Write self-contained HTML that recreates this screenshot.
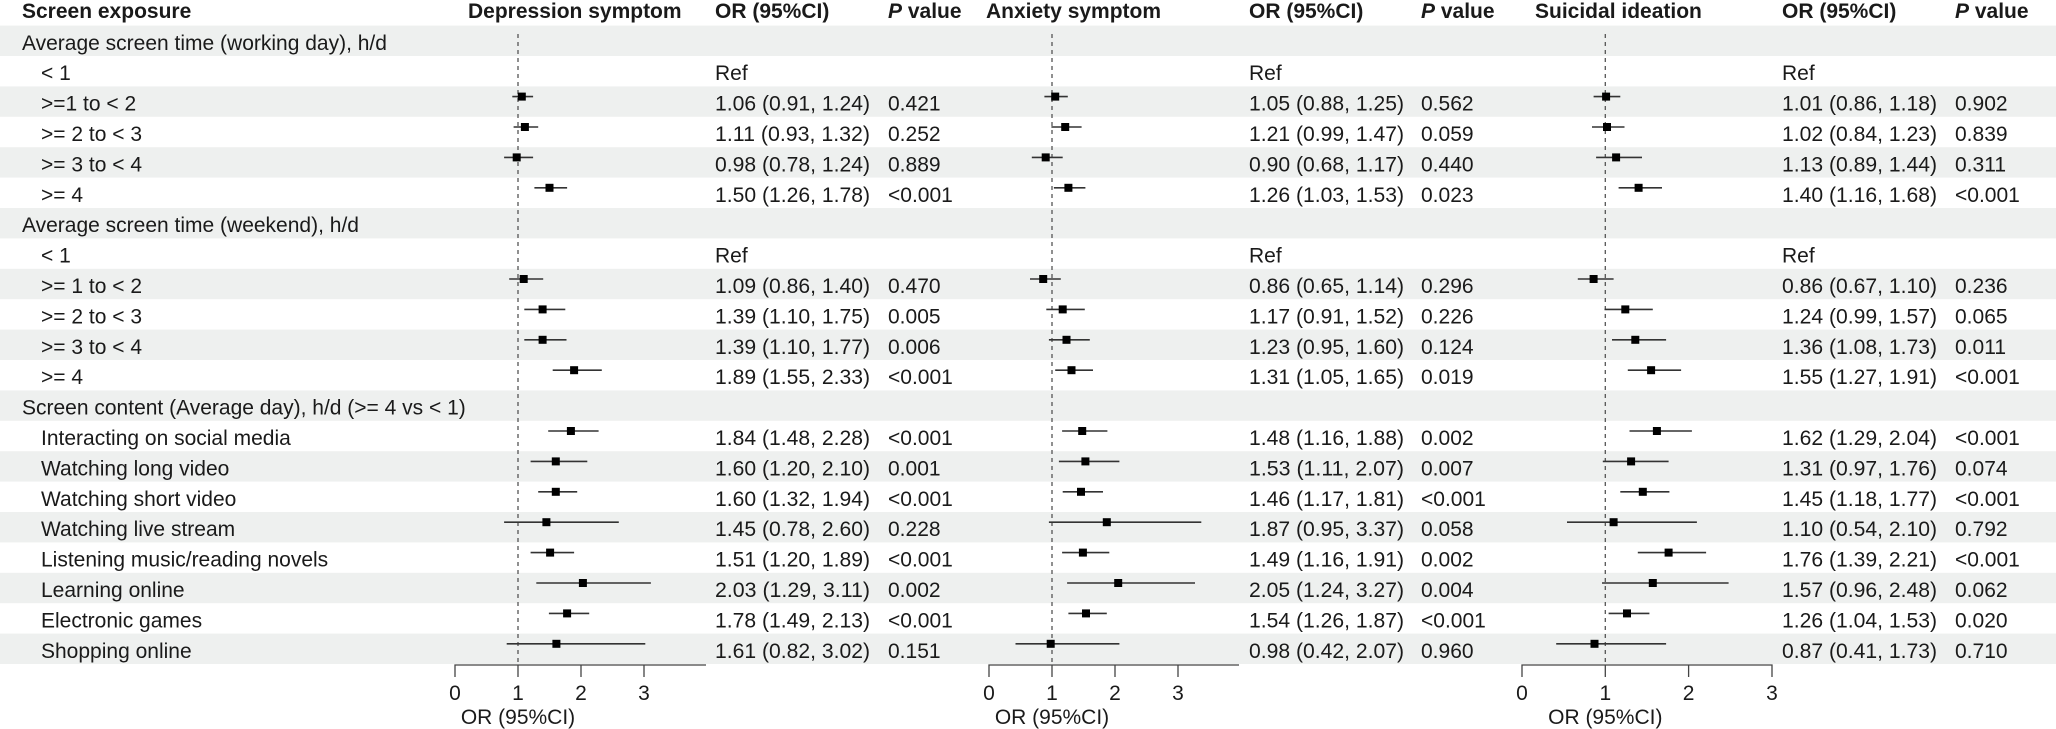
<!DOCTYPE html>
<html><head><meta charset="utf-8"><style>
html,body{margin:0;padding:0;background:#fff;}
svg{display:block;font-family:"Liberation Sans",Arial,sans-serif;}
text{fill:#1a1a1a;font-size:21px;}
.b{font-weight:bold;}
.ci{stroke:#333;stroke-width:1.6;}
.ax{stroke:#444;stroke-width:1.3;fill:none;}
</style></head><body>
<svg width="2056" height="729" viewBox="0 0 2056 729" xmlns="http://www.w3.org/2000/svg">
<g fill="#eef0ef">
<rect x="0" y="25.6" width="2056" height="30.4"/>
<rect x="0" y="86.4" width="2056" height="30.4"/>
<rect x="0" y="147.2" width="2056" height="30.4"/>
<rect x="0" y="208" width="2056" height="30.4"/>
<rect x="0" y="268.8" width="2056" height="30.4"/>
<rect x="0" y="329.6" width="2056" height="30.4"/>
<rect x="0" y="390.4" width="2056" height="30.4"/>
<rect x="0" y="451.2" width="2056" height="30.4"/>
<rect x="0" y="512" width="2056" height="30.4"/>
<rect x="0" y="572.8" width="2056" height="30.4"/>
<rect x="0" y="633.6" width="2056" height="30.4"/>
</g>
<!-- headers -->
<text class="b" x="22" y="18">Screen exposure</text>
<text class="b" x="468" y="18">Depression symptom</text>
<text class="b" x="715" y="18">OR (95%CI)</text>
<text class="b" x="888" y="18"><tspan font-style="italic">P</tspan> value</text>
<text class="b" x="986" y="18">Anxiety symptom</text>
<text class="b" x="1249" y="18">OR (95%CI)</text>
<text class="b" x="1421" y="18"><tspan font-style="italic">P</tspan> value</text>
<text class="b" x="1535" y="18">Suicidal ideation</text>
<text class="b" x="1782" y="18">OR (95%CI)</text>
<text class="b" x="1955" y="18"><tspan font-style="italic">P</tspan> value</text>
<!-- labels -->
<g>
<text x="22" y="49.8">Average screen time (working day), h/d</text>
<text x="41" y="80.2">&lt; 1</text>
<text x="41" y="110.6">&gt;=1 to &lt; 2</text>
<text x="41" y="141">&gt;= 2 to &lt; 3</text>
<text x="41" y="171.4">&gt;= 3 to &lt; 4</text>
<text x="41" y="201.8">&gt;= 4</text>
<text x="22" y="232.2">Average screen time (weekend), h/d</text>
<text x="41" y="262.6">&lt; 1</text>
<text x="41" y="293">&gt;= 1 to &lt; 2</text>
<text x="41" y="323.4">&gt;= 2 to &lt; 3</text>
<text x="41" y="353.8">&gt;= 3 to &lt; 4</text>
<text x="41" y="384.2">&gt;= 4</text>
<text x="22" y="414.6">Screen content (Average day), h/d (&gt;= 4 vs &lt; 1)</text>
<text x="41" y="445">Interacting on social media</text>
<text x="41" y="475.4">Watching long video</text>
<text x="41" y="505.8">Watching short video</text>
<text x="41" y="536.2">Watching live stream</text>
<text x="41" y="566.6">Listening music/reading novels</text>
<text x="41" y="597">Learning online</text>
<text x="41" y="627.4">Electronic games</text>
<text x="41" y="657.8">Shopping online</text>
</g>
<!-- dashed ref lines -->
<g stroke="#555" stroke-width="1.3" stroke-dasharray="4,4">
<line x1="518" y1="34" x2="518" y2="665"/>
<line x1="1052" y1="34" x2="1052" y2="665"/>
<line x1="1605.3" y1="34" x2="1605.3" y2="665"/>
</g>
<!-- axes -->
<path class="ax" d="M455,677V665H706M518,665V677M581,665V677M644,665V677"/>
<path class="ax" d="M989,677V665H1239M1052,665V677M1115,665V677M1178,665V677"/>
<path class="ax" d="M1522,677V665H1772V677M1605.3,665V677M1688.6,665V677"/>
<g text-anchor="middle">
<text x="455" y="700">0</text><text x="518" y="700">1</text><text x="581" y="700">2</text><text x="644" y="700">3</text>
<text x="989" y="700">0</text><text x="1052" y="700">1</text><text x="1115" y="700">2</text><text x="1178" y="700">3</text>
<text x="1522" y="700">0</text><text x="1605.3" y="700">1</text><text x="1688.6" y="700">2</text><text x="1772" y="700">3</text>
<text x="518" y="724">OR (95%CI)</text>
<text x="1052" y="724">OR (95%CI)</text>
<text x="1605.3" y="724">OR (95%CI)</text>
</g>
<!-- CI lines panel 1 -->
<g class="ci">
<line x1="512.3" x2="533.1" y1="96.6" y2="96.6"/>
<line x1="513.6" x2="538.2" y1="127" y2="127"/>
<line x1="504.1" x2="533.1" y1="157.4" y2="157.4"/>
<line x1="534.4" x2="567.1" y1="187.8" y2="187.8"/>
<line x1="509.2" x2="543.2" y1="279" y2="279"/>
<line x1="524.3" x2="565.3" y1="309.4" y2="309.4"/>
<line x1="524.3" x2="566.5" y1="339.8" y2="339.8"/>
<line x1="552.7" x2="601.8" y1="370.2" y2="370.2"/>
<line x1="548.2" x2="598.6" y1="431" y2="431"/>
<line x1="530.6" x2="587.3" y1="461.4" y2="461.4"/>
<line x1="538.2" x2="577.2" y1="491.8" y2="491.8"/>
<line x1="504.1" x2="618.8" y1="522.2" y2="522.2"/>
<line x1="530.6" x2="574.1" y1="552.6" y2="552.6"/>
<line x1="536.3" x2="650.9" y1="583" y2="583"/>
<line x1="548.9" x2="589.2" y1="613.4" y2="613.4"/>
<line x1="506.7" x2="645.3" y1="643.8" y2="643.8"/>
<!-- panel 2 -->
<line x1="1044.4" x2="1067.8" y1="96.6" y2="96.6"/>
<line x1="1051.4" x2="1081.6" y1="127" y2="127"/>
<line x1="1031.8" x2="1062.7" y1="157.4" y2="157.4"/>
<line x1="1053.9" x2="1085.4" y1="187.8" y2="187.8"/>
<line x1="1030" x2="1060.8" y1="279" y2="279"/>
<line x1="1046.3" x2="1084.8" y1="309.4" y2="309.4"/>
<line x1="1048.9" x2="1089.8" y1="339.8" y2="339.8"/>
<line x1="1055.2" x2="1093" y1="370.2" y2="370.2"/>
<line x1="1062.1" x2="1107.4" y1="431" y2="431"/>
<line x1="1058.9" x2="1119.4" y1="461.4" y2="461.4"/>
<line x1="1062.7" x2="1103" y1="491.8" y2="491.8"/>
<line x1="1048.9" x2="1201.3" y1="522.2" y2="522.2"/>
<line x1="1062.1" x2="1109.3" y1="552.6" y2="552.6"/>
<line x1="1067.1" x2="1195" y1="583" y2="583"/>
<line x1="1068.4" x2="1106.8" y1="613.4" y2="613.4"/>
<line x1="1015.5" x2="1119.4" y1="643.8" y2="643.8"/>
<!-- panel 3 -->
<line x1="1593.6" x2="1620.3" y1="96.6" y2="96.6"/>
<line x1="1592" x2="1624.5" y1="127" y2="127"/>
<line x1="1596.1" x2="1642" y1="157.4" y2="157.4"/>
<line x1="1618.6" x2="1662" y1="187.8" y2="187.8"/>
<line x1="1577.8" x2="1613.6" y1="279" y2="279"/>
<line x1="1604.5" x2="1652.8" y1="309.4" y2="309.4"/>
<line x1="1612" x2="1666.1" y1="339.8" y2="339.8"/>
<line x1="1627.8" x2="1681.1" y1="370.2" y2="370.2"/>
<line x1="1629.5" x2="1691.9" y1="431" y2="431"/>
<line x1="1602.8" x2="1668.6" y1="461.4" y2="461.4"/>
<line x1="1620.3" x2="1669.4" y1="491.8" y2="491.8"/>
<line x1="1567" x2="1696.9" y1="522.2" y2="522.2"/>
<line x1="1637.8" x2="1706.1" y1="552.6" y2="552.6"/>
<line x1="1602" x2="1728.6" y1="583" y2="583"/>
<line x1="1608.6" x2="1649.4" y1="613.4" y2="613.4"/>
<line x1="1556.2" x2="1666.1" y1="643.8" y2="643.8"/>
</g>
<!-- markers -->
<g fill="#000">
<rect x="517.8" y="92.6" width="8" height="8"/>
<rect x="520.9" y="123" width="8" height="8"/>
<rect x="512.7" y="153.4" width="8" height="8"/>
<rect x="545.5" y="183.8" width="8" height="8"/>
<rect x="519.7" y="275" width="8" height="8"/>
<rect x="538.6" y="305.4" width="8" height="8"/>
<rect x="538.6" y="335.8" width="8" height="8"/>
<rect x="570.1" y="366.2" width="8" height="8"/>
<rect x="566.9" y="427" width="8" height="8"/>
<rect x="551.8" y="457.4" width="8" height="8"/>
<rect x="551.8" y="487.8" width="8" height="8"/>
<rect x="542.4" y="518.2" width="8" height="8"/>
<rect x="546.1" y="548.6" width="8" height="8"/>
<rect x="578.9" y="579" width="8" height="8"/>
<rect x="563.1" y="609.4" width="8" height="8"/>
<rect x="552.4" y="639.8" width="8" height="8"/>

<rect x="1051.2" y="92.6" width="8" height="8"/>
<rect x="1061.2" y="123" width="8" height="8"/>
<rect x="1041.7" y="153.4" width="8" height="8"/>
<rect x="1064.4" y="183.8" width="8" height="8"/>
<rect x="1039.2" y="275" width="8" height="8"/>
<rect x="1058.7" y="305.4" width="8" height="8"/>
<rect x="1062.5" y="335.8" width="8" height="8"/>
<rect x="1067.5" y="366.2" width="8" height="8"/>
<rect x="1078.2" y="427" width="8" height="8"/>
<rect x="1081.4" y="457.4" width="8" height="8"/>
<rect x="1077" y="487.8" width="8" height="8"/>
<rect x="1102.8" y="518.2" width="8" height="8"/>
<rect x="1078.9" y="548.6" width="8" height="8"/>
<rect x="1114.2" y="579" width="8" height="8"/>
<rect x="1082" y="609.4" width="8" height="8"/>
<rect x="1046.7" y="639.8" width="8" height="8"/>

<rect x="1602.1" y="92.6" width="8" height="8"/>
<rect x="1603" y="123" width="8" height="8"/>
<rect x="1612.1" y="153.4" width="8" height="8"/>
<rect x="1634.6" y="183.8" width="8" height="8"/>
<rect x="1589.6" y="275" width="8" height="8"/>
<rect x="1621.3" y="305.4" width="8" height="8"/>
<rect x="1631.3" y="335.8" width="8" height="8"/>
<rect x="1647.1" y="366.2" width="8" height="8"/>
<rect x="1652.9" y="427" width="8" height="8"/>
<rect x="1627.1" y="457.4" width="8" height="8"/>
<rect x="1638.8" y="487.8" width="8" height="8"/>
<rect x="1609.6" y="518.2" width="8" height="8"/>
<rect x="1664.6" y="548.6" width="8" height="8"/>
<rect x="1648.8" y="579" width="8" height="8"/>
<rect x="1623" y="609.4" width="8" height="8"/>
<rect x="1590.5" y="639.8" width="8" height="8"/>
</g>
<!-- OR / P values panel 1 -->
<g>
<text x="715" y="80.2">Ref</text>
<text x="715" y="110.6" textLength="155" lengthAdjust="spacingAndGlyphs">1.06 (0.91, 1.24)</text><text x="888" y="110.6">0.421</text>
<text x="715" y="141" textLength="155" lengthAdjust="spacingAndGlyphs">1.11 (0.93, 1.32)</text><text x="888" y="141">0.252</text>
<text x="715" y="171.4" textLength="155" lengthAdjust="spacingAndGlyphs">0.98 (0.78, 1.24)</text><text x="888" y="171.4">0.889</text>
<text x="715" y="201.8" textLength="155" lengthAdjust="spacingAndGlyphs">1.50 (1.26, 1.78)</text><text x="888" y="201.8">&lt;0.001</text>
<text x="715" y="262.6">Ref</text>
<text x="715" y="293" textLength="155" lengthAdjust="spacingAndGlyphs">1.09 (0.86, 1.40)</text><text x="888" y="293">0.470</text>
<text x="715" y="323.4" textLength="155" lengthAdjust="spacingAndGlyphs">1.39 (1.10, 1.75)</text><text x="888" y="323.4">0.005</text>
<text x="715" y="353.8" textLength="155" lengthAdjust="spacingAndGlyphs">1.39 (1.10, 1.77)</text><text x="888" y="353.8">0.006</text>
<text x="715" y="384.2" textLength="155" lengthAdjust="spacingAndGlyphs">1.89 (1.55, 2.33)</text><text x="888" y="384.2">&lt;0.001</text>
<text x="715" y="445" textLength="155" lengthAdjust="spacingAndGlyphs">1.84 (1.48, 2.28)</text><text x="888" y="445">&lt;0.001</text>
<text x="715" y="475.4" textLength="155" lengthAdjust="spacingAndGlyphs">1.60 (1.20, 2.10)</text><text x="888" y="475.4">0.001</text>
<text x="715" y="505.8" textLength="155" lengthAdjust="spacingAndGlyphs">1.60 (1.32, 1.94)</text><text x="888" y="505.8">&lt;0.001</text>
<text x="715" y="536.2" textLength="155" lengthAdjust="spacingAndGlyphs">1.45 (0.78, 2.60)</text><text x="888" y="536.2">0.228</text>
<text x="715" y="566.6" textLength="155" lengthAdjust="spacingAndGlyphs">1.51 (1.20, 1.89)</text><text x="888" y="566.6">&lt;0.001</text>
<text x="715" y="597" textLength="155" lengthAdjust="spacingAndGlyphs">2.03 (1.29, 3.11)</text><text x="888" y="597">0.002</text>
<text x="715" y="627.4" textLength="155" lengthAdjust="spacingAndGlyphs">1.78 (1.49, 2.13)</text><text x="888" y="627.4">&lt;0.001</text>
<text x="715" y="657.8" textLength="155" lengthAdjust="spacingAndGlyphs">1.61 (0.82, 3.02)</text><text x="888" y="657.8">0.151</text>
</g>
<!-- panel 2 values -->
<g>
<text x="1249" y="80.2">Ref</text>
<text x="1249" y="110.6" textLength="155" lengthAdjust="spacingAndGlyphs">1.05 (0.88, 1.25)</text><text x="1421" y="110.6">0.562</text>
<text x="1249" y="141" textLength="155" lengthAdjust="spacingAndGlyphs">1.21 (0.99, 1.47)</text><text x="1421" y="141">0.059</text>
<text x="1249" y="171.4" textLength="155" lengthAdjust="spacingAndGlyphs">0.90 (0.68, 1.17)</text><text x="1421" y="171.4">0.440</text>
<text x="1249" y="201.8" textLength="155" lengthAdjust="spacingAndGlyphs">1.26 (1.03, 1.53)</text><text x="1421" y="201.8">0.023</text>
<text x="1249" y="262.6">Ref</text>
<text x="1249" y="293" textLength="155" lengthAdjust="spacingAndGlyphs">0.86 (0.65, 1.14)</text><text x="1421" y="293">0.296</text>
<text x="1249" y="323.4" textLength="155" lengthAdjust="spacingAndGlyphs">1.17 (0.91, 1.52)</text><text x="1421" y="323.4">0.226</text>
<text x="1249" y="353.8" textLength="155" lengthAdjust="spacingAndGlyphs">1.23 (0.95, 1.60)</text><text x="1421" y="353.8">0.124</text>
<text x="1249" y="384.2" textLength="155" lengthAdjust="spacingAndGlyphs">1.31 (1.05, 1.65)</text><text x="1421" y="384.2">0.019</text>
<text x="1249" y="445" textLength="155" lengthAdjust="spacingAndGlyphs">1.48 (1.16, 1.88)</text><text x="1421" y="445">0.002</text>
<text x="1249" y="475.4" textLength="155" lengthAdjust="spacingAndGlyphs">1.53 (1.11, 2.07)</text><text x="1421" y="475.4">0.007</text>
<text x="1249" y="505.8" textLength="155" lengthAdjust="spacingAndGlyphs">1.46 (1.17, 1.81)</text><text x="1421" y="505.8">&lt;0.001</text>
<text x="1249" y="536.2" textLength="155" lengthAdjust="spacingAndGlyphs">1.87 (0.95, 3.37)</text><text x="1421" y="536.2">0.058</text>
<text x="1249" y="566.6" textLength="155" lengthAdjust="spacingAndGlyphs">1.49 (1.16, 1.91)</text><text x="1421" y="566.6">0.002</text>
<text x="1249" y="597" textLength="155" lengthAdjust="spacingAndGlyphs">2.05 (1.24, 3.27)</text><text x="1421" y="597">0.004</text>
<text x="1249" y="627.4" textLength="155" lengthAdjust="spacingAndGlyphs">1.54 (1.26, 1.87)</text><text x="1421" y="627.4">&lt;0.001</text>
<text x="1249" y="657.8" textLength="155" lengthAdjust="spacingAndGlyphs">0.98 (0.42, 2.07)</text><text x="1421" y="657.8">0.960</text>
</g>
<!-- panel 3 values -->
<g>
<text x="1782" y="80.2">Ref</text>
<text x="1782" y="110.6" textLength="155" lengthAdjust="spacingAndGlyphs">1.01 (0.86, 1.18)</text><text x="1955" y="110.6">0.902</text>
<text x="1782" y="141" textLength="155" lengthAdjust="spacingAndGlyphs">1.02 (0.84, 1.23)</text><text x="1955" y="141">0.839</text>
<text x="1782" y="171.4" textLength="155" lengthAdjust="spacingAndGlyphs">1.13 (0.89, 1.44)</text><text x="1955" y="171.4">0.311</text>
<text x="1782" y="201.8" textLength="155" lengthAdjust="spacingAndGlyphs">1.40 (1.16, 1.68)</text><text x="1955" y="201.8">&lt;0.001</text>
<text x="1782" y="262.6">Ref</text>
<text x="1782" y="293" textLength="155" lengthAdjust="spacingAndGlyphs">0.86 (0.67, 1.10)</text><text x="1955" y="293">0.236</text>
<text x="1782" y="323.4" textLength="155" lengthAdjust="spacingAndGlyphs">1.24 (0.99, 1.57)</text><text x="1955" y="323.4">0.065</text>
<text x="1782" y="353.8" textLength="155" lengthAdjust="spacingAndGlyphs">1.36 (1.08, 1.73)</text><text x="1955" y="353.8">0.011</text>
<text x="1782" y="384.2" textLength="155" lengthAdjust="spacingAndGlyphs">1.55 (1.27, 1.91)</text><text x="1955" y="384.2">&lt;0.001</text>
<text x="1782" y="445" textLength="155" lengthAdjust="spacingAndGlyphs">1.62 (1.29, 2.04)</text><text x="1955" y="445">&lt;0.001</text>
<text x="1782" y="475.4" textLength="155" lengthAdjust="spacingAndGlyphs">1.31 (0.97, 1.76)</text><text x="1955" y="475.4">0.074</text>
<text x="1782" y="505.8" textLength="155" lengthAdjust="spacingAndGlyphs">1.45 (1.18, 1.77)</text><text x="1955" y="505.8">&lt;0.001</text>
<text x="1782" y="536.2" textLength="155" lengthAdjust="spacingAndGlyphs">1.10 (0.54, 2.10)</text><text x="1955" y="536.2">0.792</text>
<text x="1782" y="566.6" textLength="155" lengthAdjust="spacingAndGlyphs">1.76 (1.39, 2.21)</text><text x="1955" y="566.6">&lt;0.001</text>
<text x="1782" y="597" textLength="155" lengthAdjust="spacingAndGlyphs">1.57 (0.96, 2.48)</text><text x="1955" y="597">0.062</text>
<text x="1782" y="627.4" textLength="155" lengthAdjust="spacingAndGlyphs">1.26 (1.04, 1.53)</text><text x="1955" y="627.4">0.020</text>
<text x="1782" y="657.8" textLength="155" lengthAdjust="spacingAndGlyphs">0.87 (0.41, 1.73)</text><text x="1955" y="657.8">0.710</text>
</g>
</svg>
</body></html>
